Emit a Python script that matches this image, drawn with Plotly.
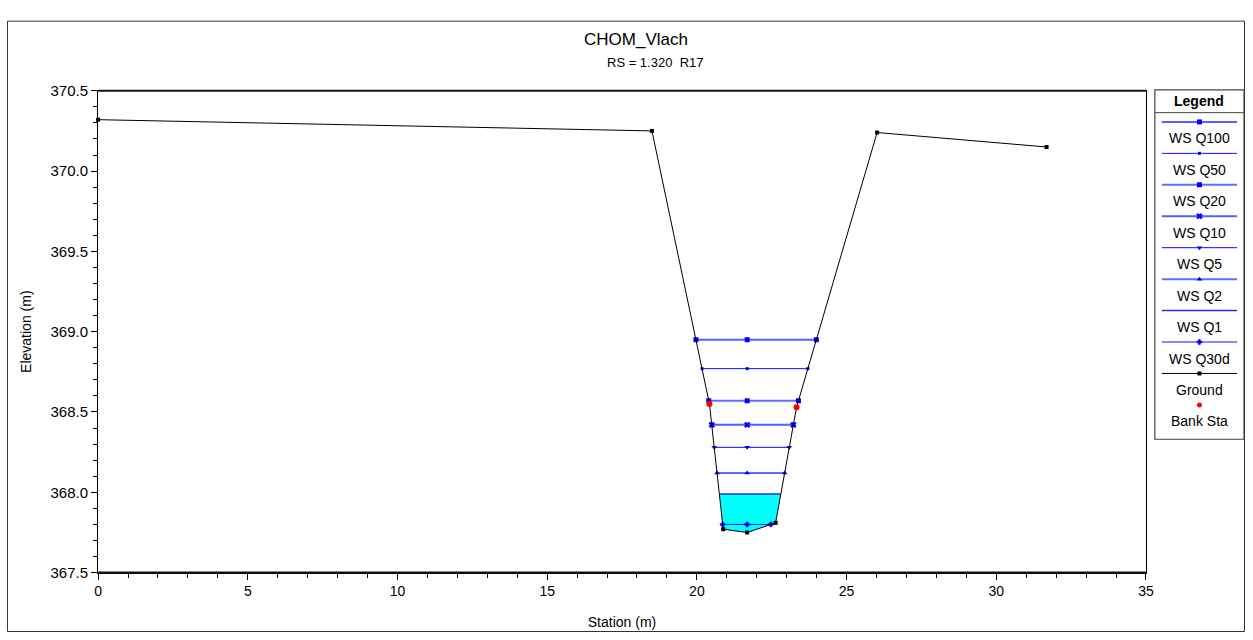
import plotly.graph_objects as go
import numpy as np

# ---------------- data ----------------
title = "CHOM_Vlach"
subtitle = "RS = 1.320  R17"

ground_sta = [0.0, 18.50, 20.42, 20.88, 21.68, 22.63, 23.33, 26.02, 31.68]
ground_elev = [370.32, 370.25, 368.55, 367.77, 367.75, 367.81, 368.53, 370.24, 370.15]

bank_sta = [20.42, 23.33]
bank_elev = [368.55, 368.53]

ws_names = ["WS Q100", "WS Q50", "WS Q20", "WS Q10", "WS Q5", "WS Q2", "WS Q1", "WS Q30d"]
ws_levels = [368.95, 368.77, 368.57, 368.42, 368.28, 368.12, 367.99, 367.80]
ws_symbols = ["square", "square", "square", "x", "triangle-down", "triangle-up", None, "cross"]
ws_msize = [5, 3, 5, 5, 5, 5, 0, 4]
ws_colors = ["#5c5cff", "#1414ff", "#6a6aff", "#5c5cff", "#0a0aff", "#6a6aff", "#2b2bd8", "#1414ff"]
ws_widths = [2, 1, 2, 2, 1, 2, 1.5, 1]
fill_profile = "WS Q1"

x_ticks = [0, 5, 10, 15, 20, 25, 30, 35]
y_ticks = [367.5, 368.0, 368.5, 369.0, 369.5, 370.0, 370.5]

W, H = 1253, 640
PL, PR, PT, PB = 95, 1153, 84, 579  # plot area pixels
FONT = "Liberation Sans, Arial, sans-serif"

gs = np.array(ground_sta)
ge = np.array(ground_elev)
imin = int(np.argmin(ge))


def wet_limits(level):
    i = imin
    while i > 0 and ge[i - 1] < level:
        i -= 1
    j0 = i - 1
    xl = gs[j0] + (ge[j0] - level) / (ge[j0] - ge[i]) * (gs[i] - gs[j0])
    k = imin
    while k < len(ge) - 1 and ge[k + 1] < level:
        k += 1
    k1 = k + 1
    xr = gs[k] + (level - ge[k]) / (ge[k1] - ge[k]) * (gs[k1] - gs[k])
    return xl, xr, i, k


fig = go.Figure()

# cyan water fill for the fill profile
lev = ws_levels[ws_names.index(fill_profile)]
xl, xr, i0, k0 = wet_limits(lev)
px = [xl] + list(gs[i0:k0 + 1]) + [xr, xl]
py = [lev] + list(ge[i0:k0 + 1]) + [lev, lev]
fig.add_trace(go.Scatter(x=px, y=py, mode="lines", fill="toself", fillcolor="#00ffff",
                         line=dict(width=0, color="#00ffff"), hoverinfo="skip", showlegend=False))

# WS lines
for name, level, sym, ms, col, w in zip(ws_names, ws_levels, ws_symbols, ws_msize, ws_colors, ws_widths):
    xl, xr, _, _ = wet_limits(level)
    xs = [xl, gs[imin], xr]
    ys = [level] * 3
    mode = "lines+markers" if sym else "lines"
    fig.add_trace(go.Scatter(x=xs, y=ys, mode=mode, name=name,
                             line=dict(color=col, width=w),
                             marker=dict(symbol=sym or "circle", size=ms, color="#0000ff",
                                         line=dict(width=0.8 if sym in ("x", "cross") else 0, color="#0000ff")),
                             showlegend=False))

# ground
fig.add_trace(go.Scatter(x=ground_sta, y=ground_elev, mode="lines+markers", name="Ground",
                         line=dict(color="black", width=1), cliponaxis=False,
                         marker=dict(symbol="square", size=4, color="black"), showlegend=False))
# bank stations
fig.add_trace(go.Scatter(x=bank_sta, y=bank_elev, mode="markers", name="Bank Sta",
                         marker=dict(symbol="circle", size=6, color="red"), showlegend=False))

# ---------------- custom legend (pixel overlay axis) ----------------
LX0, LX1, LT, LB = 1162, 1252, 83, 442
leg_names = ws_names + ["Ground", "Bank Sta"]
step = 32.3
for idx, name in enumerate(leg_names):
    yl = 116 + idx * step
    ylab = 133 + idx * step
    if idx < len(ws_names):
        col, w, sym, ms = ws_colors[idx], ws_widths[idx], ws_symbols[idx], ws_msize[idx]
        fig.add_trace(go.Scatter(x=[1169, 1245], y=[yl, yl], mode="lines", xaxis="x2", yaxis="y2",
                                 line=dict(color=col, width=w), hoverinfo="skip", showlegend=False))
        if sym:
            fig.add_trace(go.Scatter(x=[1207], y=[yl], mode="markers", xaxis="x2", yaxis="y2",
                                     marker=dict(symbol=sym, size=ms, color="#0000ff",
                                                 line=dict(width=0.8 if sym in ("x", "cross") else 0, color="#0000ff")),
                                     hoverinfo="skip", showlegend=False))
    elif name == "Ground":
        fig.add_trace(go.Scatter(x=[1169, 1245], y=[yl, yl], mode="lines", xaxis="x2", yaxis="y2",
                                 line=dict(color="black", width=1), hoverinfo="skip", showlegend=False))
        fig.add_trace(go.Scatter(x=[1207], y=[yl], mode="markers", xaxis="x2", yaxis="y2",
                                 marker=dict(symbol="square", size=4, color="black"),
                                 hoverinfo="skip", showlegend=False))
    else:
        fig.add_trace(go.Scatter(x=[1207], y=[yl], mode="markers", xaxis="x2", yaxis="y2",
                                 marker=dict(symbol="circle", size=5, color="red"),
                                 hoverinfo="skip", showlegend=False))
    fig.add_annotation(x=1207, y=ylab, xref="x2", yref="y2", text=name, showarrow=False,
                       font=dict(family=FONT, size=14, color="black"), xanchor="center", yanchor="middle")

fig.add_annotation(x=1207, y=94, xref="x2", yref="y2", text="<b>Legend</b>", showarrow=False,
                   font=dict(family=FONT, size=14, color="black"), xanchor="center", yanchor="middle")

shapes = [
    # outer frame
    dict(type="rect", xref="x2", yref="y2", x0=3.5, x1=1252.5, y0=12.5, y1=639.5,
         line=dict(color="#333333", width=1)),
    # legend box
    dict(type="rect", xref="x2", yref="y2", x0=LX0, x1=LX1, y0=LT, y1=LB,
         line=dict(color="#444444", width=1.2)),
    dict(type="line", xref="x2", yref="y2", x0=LX0, x1=LX1, y0=106.5, y1=106.5,
         line=dict(color="#444444", width=1)),
    # heavier top/bottom plot borders
    dict(type="line", xref="x2", yref="y2", x0=PL, x1=PR, y0=PT, y1=PT, line=dict(color="#111111", width=2)),
    dict(type="line", xref="x2", yref="y2", x0=PL, x1=PR, y0=PB, y1=PB, line=dict(color="#111111", width=2)),
]

# titles
fig.add_annotation(x=638, y=31, xref="x2", yref="y2", text=title, showarrow=False,
                   font=dict(family=FONT, size=17, color="black"), xanchor="center", yanchor="middle")
fig.add_annotation(x=657, y=55, xref="x2", yref="y2", text=subtitle, showarrow=False,
                   font=dict(family=FONT, size=13, color="black"), xanchor="center", yanchor="middle")

fig.update_layout(
    width=W, height=H, margin=dict(l=0, r=0, t=0, b=0),
    paper_bgcolor="white", plot_bgcolor="rgba(0,0,0,0)",
    font=dict(family=FONT, size=14, color="black"),
    showlegend=False, shapes=shapes,
    xaxis=dict(domain=[PL / W, PR / W], range=[0, 35], tickvals=x_ticks,
               ticks="outside", ticklen=6, tickcolor="black", showgrid=False, zeroline=False,
               showline=True, linecolor="black", linewidth=1, mirror=True,
               minor=dict(dtick=1, ticks="outside", ticklen=4, tickcolor="black", showgrid=False),
               title=dict(text="Station (m)", font=dict(size=14), standoff=18),
               tickfont=dict(size=14), anchor="y"),
    yaxis=dict(domain=[(H - PB) / H, (H - PT) / H], range=[367.5, 370.5], tickvals=y_ticks,
               tickformat=".1f", ticks="outside", ticklen=6, tickcolor="black",
               showgrid=False, zeroline=False,
               showline=True, linecolor="black", linewidth=1, mirror=True,
               minor=dict(dtick=0.1, ticks="outside", ticklen=4, tickcolor="black", showgrid=False),
               title=dict(text="Elevation (m)", font=dict(size=14), standoff=15),
               tickfont=dict(size=15), anchor="x"),
    xaxis2=dict(domain=[0, 1], range=[0, W], visible=False, anchor="y2", fixedrange=True),
    yaxis2=dict(domain=[0, 1], range=[H, 0], visible=False, anchor="x2", fixedrange=True),
)

fig.write_html("out.html")
